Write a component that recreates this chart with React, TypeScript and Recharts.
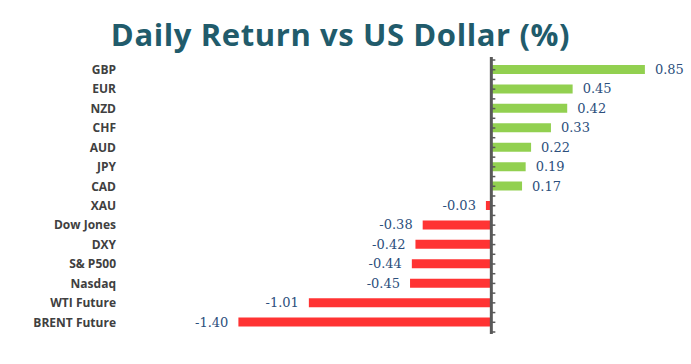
import React from 'react';
import { BarChart, Bar, XAxis, YAxis, Cell, LabelList, ReferenceLine } from 'recharts';

const CATEGORIES = [
  'GBP',
  'EUR',
  'NZD',
  'CHF',
  'AUD',
  'JPY',
  'CAD',
  'XAU',
  'Dow Jones',
  'DXY',
  'S& P500',
  'Nasdaq',
  'WTI Future',
  'BRENT Future',
];

const RETURNS = [0.85, 0.45, 0.42, 0.33, 0.22, 0.19, 0.17, -0.03, -0.38, -0.42, -0.44, -0.45, -1.01, -1.4];

const X_DOMAIN = [-2, 1];

const POS_COLOR = '#92D050';
const NEG_COLOR = '#FF3333';

const data = CATEGORIES.map((name, i) => ({ name, value: RETURNS[i] }));

// value labels: right of green bars, left of red bars
const ValueLabel = (props: any) => {
  const { x, y, width, height, value } = props;
  const left = Math.min(x, x + width);
  const right = Math.max(x, x + width);
  const cy = y + height / 2;
  const pos = value >= 0;
  return (
    <text
      x={pos ? right + 10 : left - 10}
      y={cy}
      textAnchor={pos ? 'start' : 'end'}
      dominantBaseline="central"
      fill="#2C4F7C"
      fontSize={13}
      fontFamily="'DejaVu Serif', serif"
    >
      {value.toFixed(2)}
    </text>
  );
};

// zero axis with small tick marks at every half category
const ZeroAxis = (props: any) => {
  const { x1, y1, y2 } = props;
  const top = Math.min(y1, y2);
  const bottom = Math.max(y1, y2);
  const steps = CATEGORIES.length * 2;
  const ticks = [];
  for (let i = 0; i <= steps; i++) {
    const ty = top + ((bottom - top) * i) / steps;
    ticks.push(<line key={i} x1={x1} x2={x1 + 4} y1={ty} y2={ty} stroke="#595959" strokeWidth={1.5} />);
  }
  return (
    <g>
      <line x1={x1} x2={x1} y1={top - 3} y2={bottom + 2} stroke="#595959" strokeWidth={3} />
      {ticks}
    </g>
  );
};

export default function App() {
  return (
    <div
      style={{
        position: 'absolute',
        left: 0,
        top: 0,
        width: 691,
        height: 364,
        background: '#fff',
        fontFamily: "'Open Sans', sans-serif",
      }}
    >
      <div
        style={{
          position: 'absolute',
          left: -5,
          top: 10,
          width: 691,
          textAlign: 'center',
          fontSize: 31,
          fontWeight: 700,
          color: '#215B6B',
          letterSpacing: 0.6,
          lineHeight: '48px',
        }}
      >
        Daily Return vs US Dollar (%)
      </div>
      <div style={{ position: 'absolute', left: 0, top: 0 }}>
        <BarChart
          width={691}
          height={364}
          data={data}
          layout="vertical"
          margin={{ top: 60, right: 19, bottom: 32, left: 0 }}
          barSize={9}
        >
          <XAxis type="number" domain={X_DOMAIN} hide />
          <YAxis
            type="category"
            dataKey="name"
            width={130}
            axisLine={false}
            tickLine={false}
            tickSize={0}
            tickMargin={14}
            interval={0}
            tick={{ fill: '#404040', fontSize: 12, fontWeight: 700, fontFamily: "'Open Sans', sans-serif" }}
          />
          <Bar dataKey="value" isAnimationActive={false}>
            {data.map((d, i) => (
              <Cell key={`cell-${i}`} fill={d.value >= 0 ? POS_COLOR : NEG_COLOR} />
            ))}
            <LabelList dataKey="value" content={<ValueLabel />} />
          </Bar>
          <ReferenceLine x={0} shape={<ZeroAxis />} ifOverflow="visible" />
        </BarChart>
      </div>
    </div>
  );
}
